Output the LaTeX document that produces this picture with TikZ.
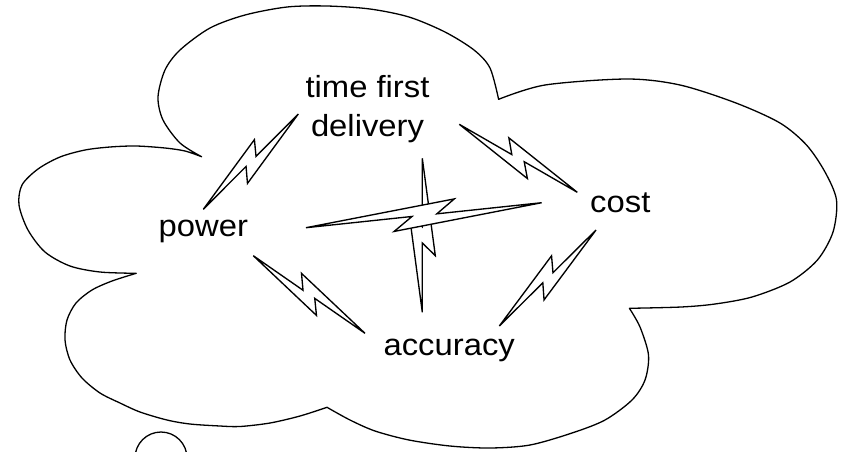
\documentclass[tikz,border=0pt]{standalone}
\usepackage{fontspec}
\setmainfont{Liberation Sans}[FakeStretch=1.075]
\usetikzlibrary{calc}
\tikzset{
  cloudline/.style={line width=1.3pt, line join=round},
  boltline/.style={line width=1.35pt, fill=white, line join=miter},
  lbl/.style={inner sep=0pt, font=\fontsize{30.5}{39}\selectfont},
}
% lightning bolt between tip #1 and tip #2, #3 = side (+1/-1)
\newcommand\lbolt[3]{%
  \draw[boltline] (#1)
    -- ($(#1)!0.445!(#2)$)
    -- ($(#1)!0.365!(#2)!{(#3)*13pt}!90:(#2)$)
    -- (#2)
    -- ($(#1)!0.55!(#2)$)
    -- ($(#1)!0.632!(#2)!{(#3)*(-13pt)}!90:(#2)$)
    -- cycle;}
\begin{document}
\begin{tikzpicture}[x=1pt,y=-1pt]
\useasboundingbox (0,0) rectangle (850,451);
\clip (0,0) rectangle (850,451);
% cloud
\draw[cloudline]
  plot[smooth] coordinates {(201.6,156.7) (180,143) (163,120) (158,97) (165,70) (180,50) (210,28) (245,15) (287,7) (327,6) (370,9) (409,17) (445,32) (474,50) (490,68) (498.6,99.3)}
  -- plot[smooth] coordinates {(498.6,99.3) (545,85) (627,79) (680,85) (736,103) (780,123) (806.5,145) (825,172) (836.5,200) (833,232) (817.4,260) (790,282) (752,297) (715,304) (681,307) (629.4,308.3)}
  -- plot[smooth] coordinates {(629.4,308.3) (640,327) (648.5,355) (645,380) (632,400) (605,420) (572,433) (530,445) (490,448) (450,446) (409,440) (375,431) (350,420) (327,407.3)}
  -- plot[smooth] coordinates {(327,407.3) (300,416) (270,423) (240,426.5) (220,426) (190,424) (167,420) (140,412) (120,403) (100,393) (82,378) (70,360) (65,340) (67,320) (76,303) (92,290) (112,281) (136.2,273.3)}
  -- plot[smooth] coordinates {(136.2,273.3) (100,272) (70,266) (45,252) (28,230) (19,205) (22,185) (38,169) (60,157) (85,150) (110,147) (136,146) (165,148) (185,151) (201.6,156.7)}
  -- cycle;
% thought bubble
\draw[cloudline] (161,458) circle[radius=26];
% labels
\node[lbl, align=center] (tfd) at (367.5,109) {time first\\delivery};
\node[lbl, anchor=base] (pow) at (203.3,236.5) {power};
\node[lbl, anchor=base] (cst) at (620.3,212.5) {cost};
\node[lbl, anchor=base] (acc) at (449.2,355.5) {accuracy};
% bolt ends
\coordinate (b1a) at (298.3,114);   \coordinate (b1d) at (203.3,209.3);
\coordinate (b2a) at (459.3,124.3); \coordinate (b2d) at (577.3,192.3);
\coordinate (b3a) at (596,230);     \coordinate (b3d) at (499.3,326);
\coordinate (b4a) at (253.3,255.7); \coordinate (b4d) at (365,333.3);
\coordinate (b5a) at (541.7,202.7); \coordinate (b5d) at (306,227.7);
\coordinate (b6a) at (422.3,158.3); \coordinate (b6d) at (422.3,312.3);
\lbolt{b1a}{b1d}{-1}
\lbolt{b2a}{b2d}{1}
\lbolt{b3a}{b3d}{-1}
\lbolt{b4a}{b4d}{1}
\lbolt{b6a}{b6d}{-1}
\lbolt{b5a}{b5d}{-1}
\end{tikzpicture}
\end{document}
